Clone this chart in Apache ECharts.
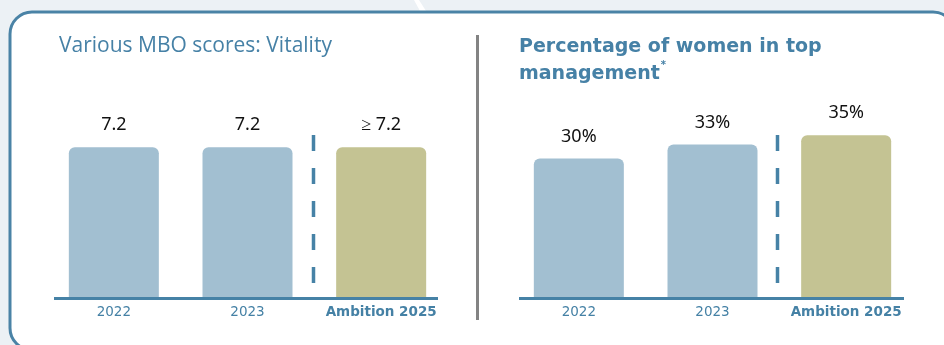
<!DOCTYPE html>
<html>
<head>
<meta charset="utf-8">
<script src="https://cdn.jsdelivr.net/npm/echarts@6/dist/echarts.min.js"></script>
<style>
  html, body { margin: 0; padding: 0; background: #ECF1F5; }
  #chart { width: 944px; height: 345px; }
</style>
</head>
<body>
<div id="chart"></div>
<script>
// Panel 1: various MBO scores (Vitality)
const vitalityCategories = ['2022', '2023', 'Ambition 2025'];
const vitalityValues = [7.2, 7.2, 7.2];
const vitalityLabels = ['7.2', '7.2', '\u2265 7.2'];

// Panel 2: share of women in top management (%)
const womenCategories = ['2022', '2023', 'Ambition 2025'];
const womenValues = [30, 33, 35];
const womenLabels = ['30%', '33%', '35%'];

const BLUE_BAR = '#A2BFD1';
const OLIVE_BAR = '#C4C393';
const ACCENT = '#4682A6';
const TITLE_BLUE = '#4681A6';

const RIGHT_TITLE_FONT = 'bold 19px "DejaVu Sans"';

// width of a text run, used to place the footnote asterisk
function textWidth(text, font) {
  const ctx = document.createElement('canvas').getContext('2d');
  ctx.font = font;
  return ctx.measureText(text).width;
}

const chart = echarts.init(document.getElementById('chart'), null, { renderer: 'canvas' });

function catData(cats) {
  return cats.map((c, i) => i === cats.length - 1
    ? { value: c, textStyle: { fontWeight: 'bold' } }
    : c);
}

function barData(values) {
  return values.map((v, i) => ({
    value: v,
    itemStyle: { color: i === values.length - 1 ? OLIVE_BAR : BLUE_BAR }
  }));
}

const axisLabelStyle = {
  interval: 0,
  hideOverlap: false,
  color: '#4581A5',
  fontFamily: 'DejaVu Sans',
  fontSize: 13.5,
  margin: 8
};

const starX = 519 + textWidth('management', RIGHT_TITLE_FONT) + 1;

const option = {
  backgroundColor: '#ECF1F5',
  animation: false,
  grid: [
    { left: 47, width: 401, top: 89, bottom: 48 },
    { left: 512, width: 401, top: 66, bottom: 48 }
  ],
  xAxis: [
    {
      gridIndex: 0, type: 'category', data: catData(vitalityCategories),
      axisLine: { show: false }, axisTick: { show: false },
      axisLabel: axisLabelStyle
    },
    {
      gridIndex: 1, type: 'category', data: catData(womenCategories),
      axisLine: { show: false }, axisTick: { show: false },
      axisLabel: axisLabelStyle
    }
  ],
  yAxis: [
    { gridIndex: 0, type: 'value', min: 0, max: 10, show: false },
    { gridIndex: 1, type: 'value', min: 0, max: 50, show: false }
  ],
  graphic: [
    // card background
    {
      type: 'rect', z: -10, silent: true,
      shape: { x: 10, y: 12, width: 945, height: 338, r: 22 },
      style: { fill: '#FFFFFF', stroke: '#4A83A6', lineWidth: 3 }
    },
    // light streak above the card
    {
      type: 'polygon', z: -11, silent: true,
      shape: { points: [[414, 0], [419, 0], [426, 11], [420, 11]] },
      style: { fill: '#FFFFFF' }
    },
    // vertical divider between the panels
    {
      type: 'line', silent: true,
      shape: { x1: 477.5, y1: 35, x2: 477.5, y2: 320 },
      style: { stroke: '#838383', lineWidth: 3 }
    },
    // baselines
    {
      type: 'line', silent: true, z: 10,
      shape: { x1: 54, y1: 298.5, x2: 438, y2: 298.5 },
      style: { stroke: ACCENT, lineWidth: 3 }
    },
    {
      type: 'line', silent: true, z: 10,
      shape: { x1: 519, y1: 298.5, x2: 904, y2: 298.5 },
      style: { stroke: ACCENT, lineWidth: 3 }
    },
    // dashed separators between actuals and ambition
    {
      type: 'line', silent: true,
      shape: { x1: 313.5, y1: 135, x2: 313.5, y2: 283 },
      style: { stroke: ACCENT, lineWidth: 3.5, lineDash: [16, 17] }
    },
    {
      type: 'line', silent: true,
      shape: { x1: 777.5, y1: 135, x2: 777.5, y2: 283 },
      style: { stroke: ACCENT, lineWidth: 3.5, lineDash: [16, 17] }
    },
    // titles
    {
      type: 'text', silent: true,
      style: {
        x: 59, y: 36, text: 'Various MBO scores: Vitality',
        fill: TITLE_BLUE, fontFamily: 'Open Sans', fontSize: 21
      }
    },
    {
      type: 'text', silent: true,
      style: {
        x: 519, y: 34, text: 'Percentage of women in top\nmanagement',
        fill: TITLE_BLUE, fontFamily: 'DejaVu Sans', fontWeight: 'bold',
        fontSize: 19, lineHeight: 27
      }
    },
    {
      type: 'text', silent: true,
      style: {
        x: starX, y: 60, text: '*',
        fill: TITLE_BLUE, fontFamily: 'DejaVu Sans', fontWeight: 'bold', fontSize: 10
      }
    }
  ],
  series: [
    {
      type: 'bar', xAxisIndex: 0, yAxisIndex: 0,
      data: barData(vitalityValues),
      barWidth: 90,
      itemStyle: { borderRadius: [6, 6, 0, 0] },
      label: {
        show: true, position: 'top', distance: 13,
        color: '#111111', fontFamily: 'Noto Sans', fontSize: 18,
        formatter: p => vitalityLabels[p.dataIndex]
      }
    },
    {
      type: 'bar', xAxisIndex: 1, yAxisIndex: 1,
      data: barData(womenValues),
      barWidth: 90,
      itemStyle: { borderRadius: [6, 6, 0, 0] },
      label: {
        show: true, position: 'top', distance: 13,
        color: '#111111', fontFamily: 'Noto Sans', fontSize: 18,
        formatter: p => womenLabels[p.dataIndex]
      }
    }
  ]
};

chart.setOption(option);
</script>
</body>
</html>
